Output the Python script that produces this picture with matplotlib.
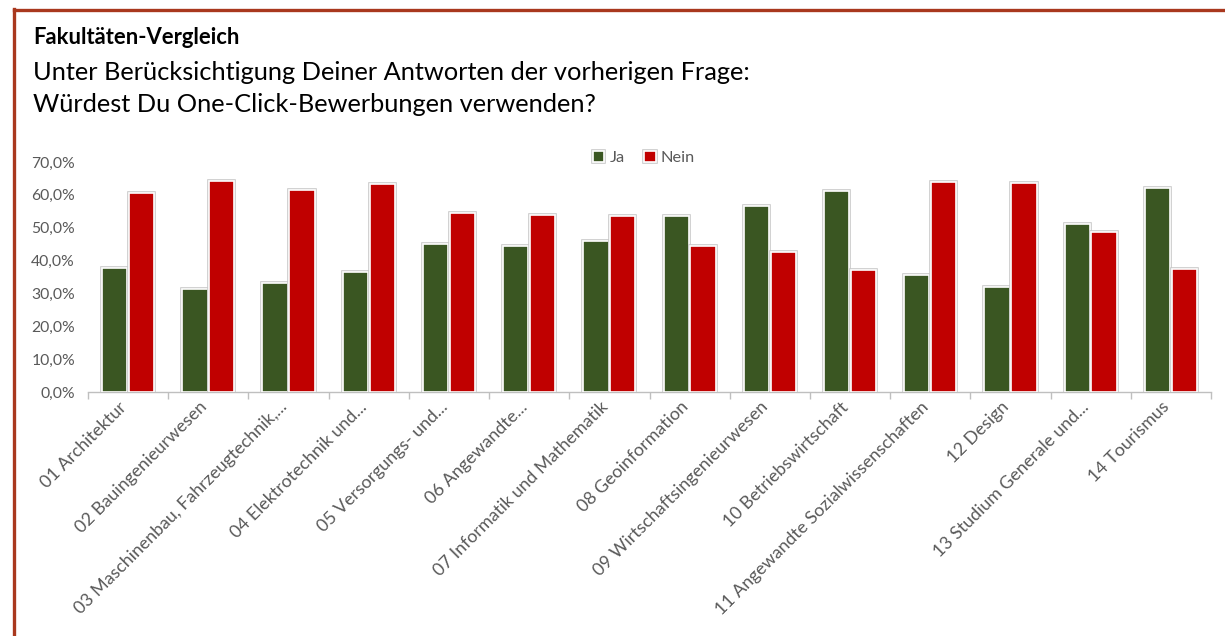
import matplotlib
matplotlib.use("Agg")
import matplotlib.pyplot as plt
import numpy as np
from matplotlib.lines import Line2D
from matplotlib.ticker import FuncFormatter, FixedLocator
from matplotlib.transforms import ScaledTranslation
import matplotlib.patheffects as pe

plt.rcParams['font.family'] = ['Lato', 'DejaVu Sans']

categories = [
    "01 Architektur",
    "02 Bauingenieurwesen",
    "03 Maschinenbau, Fahrzeugtechnik,...",
    "04 Elektrotechnik und...",
    "05 Versorgungs- und...",
    "06 Angewandte...",
    "07 Informatik und Mathematik",
    "08 Geoinformation",
    "09 Wirtschaftsingenieurwesen",
    "10 Betriebswirtschaft",
    "11 Angewandte Sozialwissenschaften",
    "12 Design",
    "13 Studium Generale und...",
    "14 Tourismus",
]
ja = [37.6, 31.2, 33.3, 36.4, 44.9, 44.4, 46.0, 53.7, 56.7, 61.2, 35.5, 31.9, 51.0, 62.2]
nein = [60.5, 64.3, 61.5, 63.3, 54.6, 53.9, 53.7, 44.4, 42.7, 37.1, 64.0, 63.7, 48.7, 37.5]
series_names = ["Ja", "Nein"]
yticks = [0, 10, 20, 30, 40, 50, 60, 70]

green = "#3A5622"
red = "#C00000"
grey_txt = "#595959"
axis_grey = "#BFBFBF"

W, H = 1225, 636
fig = plt.figure(figsize=(W / 100, H / 100), dpi=100)
ax = fig.add_axes([88 / W, 1 - 392 / H, (1211 - 88) / W, (392 - 162) / H])

x = np.arange(len(categories))
bw = 0.315
gap = 0.01
b1 = ax.bar(x - bw / 2 - gap, ja, width=bw, color=green, edgecolor="white",
            linewidth=1.2, label=series_names[0], zorder=3)
b2 = ax.bar(x + bw / 2 + gap, nein, width=bw, color=red, edgecolor="white",
            linewidth=1.2, label=series_names[1], zorder=3)
for p in list(b1) + list(b2):
    p.set_path_effects([pe.Stroke(linewidth=2.6, foreground="#C8C8C8"), pe.Normal()])

ax.set_xlim(-0.5, len(categories) - 0.5)
ax.set_ylim(0, 70)
ax.set_yticks(yticks)
ax.yaxis.set_major_formatter(FuncFormatter(lambda v, p: f"{v:.1f}".replace(".", ",") + "%"))
ax.tick_params(axis="y", length=0, pad=9.4, labelsize=11.3, labelcolor=grey_txt)

ax.set_xticks(x)
ax.set_xticklabels(categories, rotation=45, ha="right", va="center",
                   rotation_mode="anchor", fontsize=12.8, color=grey_txt)
ax.tick_params(axis="x", which="major", length=0, pad=9)
off = ScaledTranslation(-4 / 100, 0, fig.dpi_scale_trans)
for lab in ax.get_xticklabels():
    lab.set_transform(lab.get_transform() + off)
ax.xaxis.set_minor_locator(FixedLocator(np.arange(-0.5, len(categories), 1.0)))
ax.tick_params(axis="x", which="minor", length=5, width=1, color=axis_grey)

for s in ["top", "right", "left"]:
    ax.spines[s].set_visible(False)
ax.spines["bottom"].set_color(axis_grey)
ax.spines["bottom"].set_linewidth(1)

leg = fig.legend(handles=[b1, b2], labels=series_names, loc="center",
                 bbox_to_anchor=(644 / W, 1 - 158 / H), ncol=2, frameon=False,
                 fontsize=11.8, handlelength=0.7, handleheight=0.7,
                 handletextpad=0.3, columnspacing=1.2)
for t in leg.get_texts():
    t.set_color(grey_txt)

fig.text(33 / W, 1 - 38 / H, "Fakultäten-Vergleich", fontsize=15.8,
         fontweight="bold", va="center", ha="left", color="black")
fig.text(33 / W, 1 - 73 / H,
         "Unter Berücksichtigung Deiner Antworten der vorherigen Frage:",
         fontsize=18.3, va="center", ha="left", color="black")
fig.text(33 / W, 1 - 105 / H, "Würdest Du One-Click-Bewerbungen verwenden?",
         fontsize=18.3, va="center", ha="left", color="black")

border = "#A9381E"
fig.add_artist(Line2D([14 / W, 1.0], [1 - 9.5 / H, 1 - 9.5 / H],
                      transform=fig.transFigure, color=border, linewidth=2.4))
fig.add_artist(Line2D([14 / W, 14 / W], [1 - 8.5 / H, 0.0],
                      transform=fig.transFigure, color=border, linewidth=2.4))

fig.savefig("out.png", dpi=100, facecolor="white")
